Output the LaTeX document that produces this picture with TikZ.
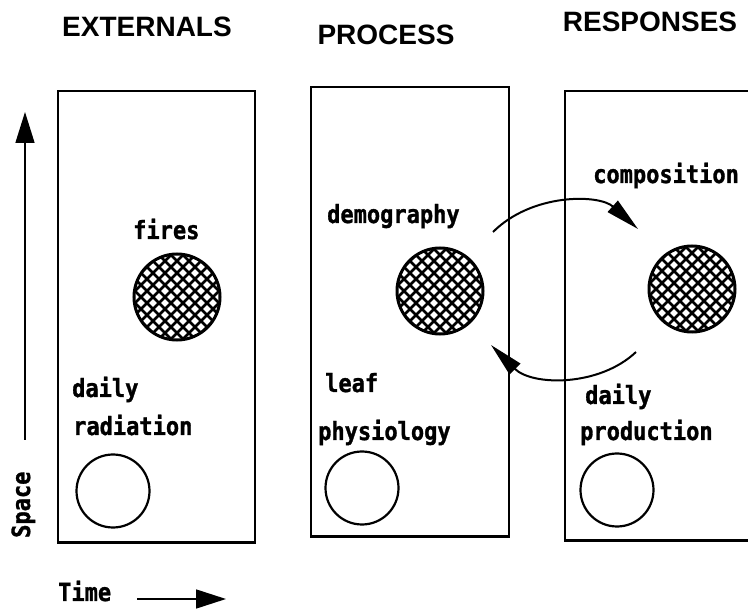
\documentclass[tikz,border=0pt]{standalone}
\usepackage{fontspec}
\setmainfont{Liberation Sans}
\newfontfamily\labfont{DejaVu Sans Mono}[FakeStretch=0.88, BoldFeatures={FakeBold=1.2}]
\usetikzlibrary{arrows.meta}
\begin{document}
\begin{tikzpicture}[x=1pt,y=-1pt,
  panel/.style={draw, rectangle, line width=1.6pt, inner sep=0pt},
  hatched/.style={circle, draw, line width=3pt, minimum size=86pt, inner sep=0pt,
    path picture={
      \foreach \k in {-120,-108,...,120} {
        \draw[line width=2.5pt] ([xshift=\k pt]path picture bounding box.center) ++(-60pt,-60pt) -- ++(120pt,120pt);
        \draw[line width=2.5pt] ([xshift=\k pt]path picture bounding box.center) ++(-60pt,60pt) -- ++(120pt,-120pt);
      }
    }},
  hollow/.style={circle, draw, line width=2.2pt, minimum size=73pt, inner sep=0pt},
  lab/.style={font=\labfont\bfseries\fontsize{25}{25}\selectfont, anchor=base west, inner sep=0pt},
  ttl/.style={font=\bfseries\fontsize{28}{28}\selectfont, anchor=base, inner sep=0pt},
  cyc/.style={line width=2pt, -{Triangle[length=34pt,width=15pt]}},
  axisarrow/.style={line width=1.6pt, -{Triangle[length=#1,width=19pt]}},
  heavy/.style={line width=2.8pt}
]
\useasboundingbox (0,0) rectangle (748,612);
\clip (0,0) rectangle (748,612);

% titles
\node[ttl] (t1) at (147,37) {EXTERNALS};
\node[ttl] (t2) at (386,45) {PROCESS};
\node[ttl] (t3) at (650,32) {RESPONSES};

% panels
\node[panel, minimum width=197pt, minimum height=451pt] (b1) at (156.5,316.5) {};
\node[panel, minimum width=198pt, minimum height=449pt] (b2) at (410,311.5) {};
\node[panel, minimum width=200pt, minimum height=449pt] (b3) at (665,315.5) {};
\draw[heavy] (b1.south west) -- (b1.south east);
\draw[heavy] (b2.south west) -- (b2.south east);
\draw[heavy] (b3.south west) -- (b3.south east);

% hatched circles
\node[hatched] (h1) at (177,297) {};
\node[hatched] (h2) at (440,291) {};
\node[hatched] (h3) at (692,289) {};

% hollow circles
\node[hollow] (c1) at (113,491) {};
\node[hollow] (c2) at (362,488) {};
\node[hollow] (c3) at (617,490) {};

% labels
\node[lab] (fires) at (133,239) {fires};
\node[lab] (demo) at (327,223) {demography};
\node[lab] (comp) at (593,183) {composition};
\node[lab] (d1) at (72,397) {daily};
\node[lab] (rad) at (73,435) {radiation};
\node[lab] (leaf) at (325,392) {leaf};
\node[lab] (phys) at (318,440) {physiology};
\node[lab] (d3) at (585,404) {daily};
\node[lab] (prod) at (580,440) {production};

% cycle arrows
\coordinate (u0) at (493,232);
\coordinate (u1) at (638,229);
\draw[cyc] (u0) .. controls (532,193) and (599,194) .. (u1);
\coordinate (l0) at (636,352);
\coordinate (l1) at (491,345);
\draw[cyc] (l0) .. controls (599,387) and (532,386) .. (l1);

% axes
\coordinate (s0) at (25,440);
\coordinate (s1) at (25,112);
\draw[axisarrow=31pt] (s0) -- (s1);
\node[lab, rotate=90] (space) at (30,538) {Space};
\node[lab] (time) at (58,601) {Time};
\coordinate (a0) at (137,599);
\coordinate (a1) at (226,599);
\draw[axisarrow=30pt] (a0) -- (a1);
\end{tikzpicture}
\end{document}
